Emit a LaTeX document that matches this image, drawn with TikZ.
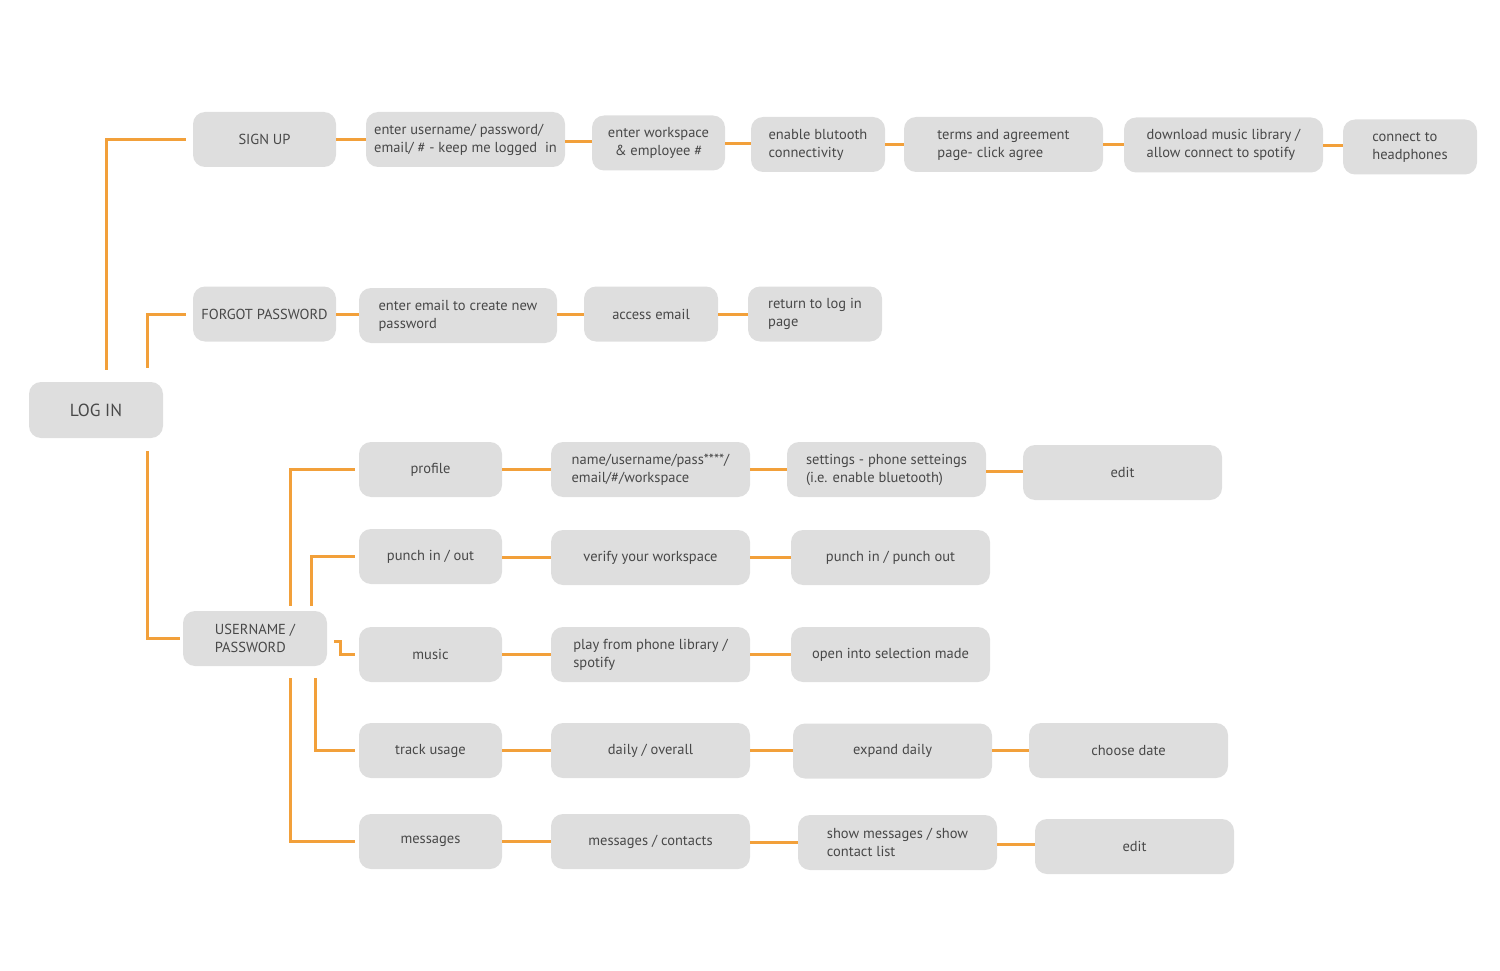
\documentclass[tikz,border=0pt]{standalone}
\usepackage{fontspec}
\setmainfont{PT Sans}
\usetikzlibrary{calc}
\definecolor{boxgray}{HTML}{DEDEDE}
\definecolor{txtgray}{HTML}{484848}
\definecolor{lineor}{HTML}{F2A03A}
\tikzset{
  box/.style={rounded corners=12pt, fill=boxgray, text=txtgray, minimum height=55pt,
    inner sep=0pt, align=left, font=\fontsize{14.5}{18}\selectfont},
  sbox/.style={box, minimum width=143pt},
  mbox/.style={box, minimum width=134pt},
  wbox/.style={box, minimum width=199pt},
  conn/.style={draw=lineor, line width=3pt}
}
\begin{document}
\begin{tikzpicture}[x=1pt,y=-1pt]
\useasboundingbox (0,0) rectangle (1500,971);
% row 1
\node[sbox] (signup) at (264.5,139.5) {SIGN UP};
\node[wbox] (user1) at (465.5,139.5) {enter username/ password/\\email/ \# - keep me logged\ \ in};
\node[mbox, minimum width=133pt, align=center] (work) at (658.5,143) {enter workspace\\\& employee \#};
\node[mbox] (bt) at (818,144.5) {enable blutooth\\connectivity};
\node[wbox] (terms) at (1003.5,144.5) {terms and agreement\\page- click agree};
\node[wbox] (dl) at (1223.5,145) {download music library /\\allow connect to spotify};
\node[mbox] (hp) at (1410,147) {connect to\\headphones};
% row 2
\node[sbox] (forgot) at (264.5,314) {FORGOT PASSWORD};
\node[wbox, minimum width=198pt] (newpw) at (458,315.5) {enter email to create new\\password};
\node[mbox] (access) at (651,314) {access email};
\node[mbox] (ret) at (815,314) {return to log in\\page};
% login
\node[mbox, minimum height=56pt, font=\fontsize{17.5}{20}\selectfont] (login) at (96,410) {LOG IN};
\node[box, minimum width=144pt] (userpw) at (255,638.5) {USERNAME /\\PASSWORD};
% profile row
\node[sbox] (profile) at (430.5,469.5) {profile};
\node[wbox] (name) at (650.5,469.5) {name/username/pass****/\\email/\#/workspace};
\node[wbox] (settings) at (886.5,469.5) {settings - phone setteings\\(i.e. enable bluetooth)};
\node[wbox] (edita) at (1122.5,472.5) {edit};
% punch row
\node[sbox] (punch) at (430.5,556.5) {punch in / out};
\node[wbox] (verify) at (650.5,557.5) {verify your workspace};
\node[wbox] (punchio) at (890.5,557.5) {punch in / punch out};
% music row
\node[sbox] (music) at (430.5,654.5) {music};
\node[wbox] (play) at (650.5,654.5) {play from phone library /\\spotify};
\node[wbox] (open) at (890.5,654.5) {open into selection made};
% track row
\node[sbox] (track) at (430.5,750.5) {track usage};
\node[wbox] (daily) at (650.5,750.5) {daily / overall};
\node[wbox] (expand) at (892.5,751) {expand daily};
\node[wbox] (choose) at (1128.5,750.5) {choose date};
% messages row
\node[sbox] (msg) at (430.5,841.5) {messages};
\node[wbox] (contacts) at (650.5,841.5) {messages / contacts};
\node[wbox] (show) at (897.5,842.5) {show messages / show\\contact list};
\node[wbox] (editb) at (1134.5,846.5) {edit};

% straight connectors
\foreach \a/\b in {signup/user1,user1/work,work/bt,bt/terms,terms/dl,dl/hp,
  forgot/newpw,newpw/access,access/ret,
  profile/name,name/settings,settings/edita,
  punch/verify,verify/punchio,
  music/play,play/open,
  track/daily,daily/expand,expand/choose,
  msg/contacts,contacts/show,show/editb}
  {
  \coordinate (m) at ($(\a.east)!.5!(\b.west)$);
  \draw[conn] (m -| \a.east) -- (m -| \b.west);
  }

% elbow connectors
\draw[conn] ([xshift=10pt,yshift=12pt]login.north) |- ([xshift=-7pt]signup.west);
\draw[conn] ([xshift=51pt,yshift=14pt]login.north) |- ([xshift=-7pt]forgot.west);
\draw[conn] ([xshift=51pt,yshift=-13pt]login.south) |- ([xshift=-3pt]userpw.west);
\draw[conn] ([xshift=35pt,yshift=5pt]userpw.north) |- ([xshift=-4pt]profile.west);
\draw[conn] ([xshift=56pt,yshift=5pt]userpw.north) |- ([xshift=-4pt]punch.west);
\draw[conn] ([xshift=7pt,yshift=-2.5pt]userpw.east) -- ++(6pt,0) |- ([xshift=-4pt]music.west);
\draw[conn] ([xshift=60pt,yshift=-12pt]userpw.south) |- ([xshift=-4pt]track.west);
\draw[conn] ([xshift=35pt,yshift=-12pt]userpw.south) |- ([xshift=-4pt]msg.west);
\end{tikzpicture}
\end{document}
